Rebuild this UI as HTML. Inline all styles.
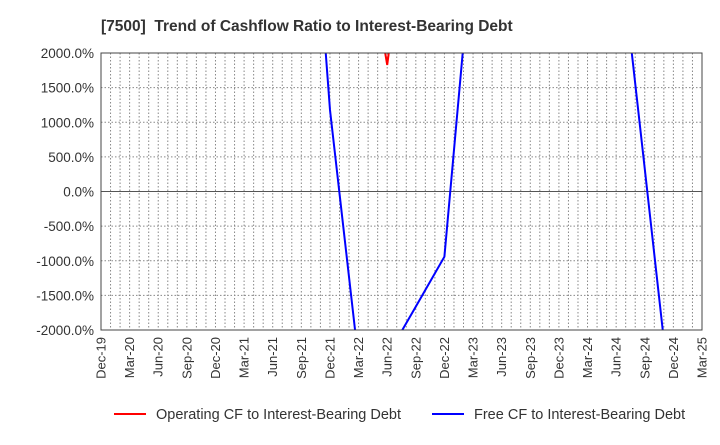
<!DOCTYPE html>
<html><head><meta charset="utf-8"><style>
body{margin:0;background:#fff;}
svg{font-family:"Liberation Sans",sans-serif;}
</style></head><body>
<svg id="c" width="720" height="440" xmlns="http://www.w3.org/2000/svg">
<text x="101" y="31" font-size="15.5" font-weight="bold" fill="#333" style="white-space:pre">[7500]  Trend of Cashflow Ratio to Interest-Bearing Debt</text>
<g id="grid"></g>
<g id="ylab"></g>
<g id="xlab"></g>
<defs><clipPath id="clip"><rect x="101" y="53" width="601" height="277"/></clipPath></defs>
<g id="series" clip-path="url(#clip)"></g>
<rect x="101" y="53" width="601" height="277" fill="none" stroke="#444" stroke-width="1"/>
<g>
<line x1="114" y1="414" x2="146" y2="414" stroke="#f00" stroke-width="2"/>
<text x="156" y="419" font-size="14.5" fill="#333">Operating CF to Interest-Bearing Debt</text>
<line x1="432" y1="414" x2="464" y2="414" stroke="#00f" stroke-width="2"/>
<text x="474" y="419" font-size="14.5" fill="#333">Free CF to Interest-Bearing Debt</text>
</g>
</svg>
<script>
const xTickLabels=["Dec-19","Mar-20","Jun-20","Sep-20","Dec-20","Mar-21","Jun-21","Sep-21","Dec-21","Mar-22","Jun-22","Sep-22","Dec-22","Mar-23","Jun-23","Sep-23","Dec-23","Mar-24","Jun-24","Sep-24","Dec-24","Mar-25"];
const yTicks=[2000,1500,1000,500,0,-500,-1000,-1500,-2000];
const operatingCF=[null,null,null,null,null,null,null,null,null,4300,1827,5000,null,null,null,null,null,null,null,null,null,null];
const freeCF=[null,null,null,null,null,null,null,6720,1177,-2450,-2378,-1662,-941,3655,null,null,null,null,4025,323,-3380,null];
const L=101,R=702,T=53,B=330,NS="http://www.w3.org/2000/svg";
const months=63;
function x(i){return L+(i*3)*(R-L)/months;}
function xm(m){return L+m*(R-L)/months;}
function y(v){return T+(2000-v)*(B-T)/4000;}
function mk(t,a,p){const e=document.createElementNS(NS,t);for(const k in a)e.setAttribute(k,a[k]);p.appendChild(e);return e;}
const g=document.getElementById('grid');
for(let m=1;m<months;m++){const l=mk('line',{x1:xm(m),x2:xm(m),y1:T,y2:B,stroke:'#888','stroke-width':1,'stroke-dasharray':'1.5,2'},g);

}
const yl=document.getElementById('ylab');
yTicks.forEach(v=>{
 if(v!==2000&&v!==-2000){const l=mk('line',{x1:L,x2:R,y1:y(v),y2:y(v),stroke:v===0?'#555':'#888','stroke-width':1,'stroke-dasharray':v===0?'':'1.5,2'},g);
 
 }
 const t=mk('text',{x:94,y:y(v)+5,'text-anchor':'end','font-size':13.5,fill:'#333'},yl);t.textContent=v.toFixed(1)+'%';
 
 
});
const xl=document.getElementById('xlab');
xTickLabels.forEach((s,i)=>{const t=mk('text',{x:0,y:0,'text-anchor':'end','font-size':13,fill:'#333',transform:`translate(${x(i)+4.5},337) rotate(-90)`},xl);t.textContent=s;
 
 });
const sg=document.getElementById('series');
function draw(arr,col,name){let d='',pen=false;arr.forEach((v,i)=>{if(v===null){pen=false;return;}d+=(pen?'L':'M')+x(i).toFixed(1)+','+y(v).toFixed(1);pen=true;});
 const p=mk('path',{d:d,fill:'none',stroke:col,'stroke-width':2},sg);
 
 }
draw(operatingCF,'#f00','operating-cf-line');
draw(freeCF,'#00f','free-cf-line');
</script>
</body></html>
